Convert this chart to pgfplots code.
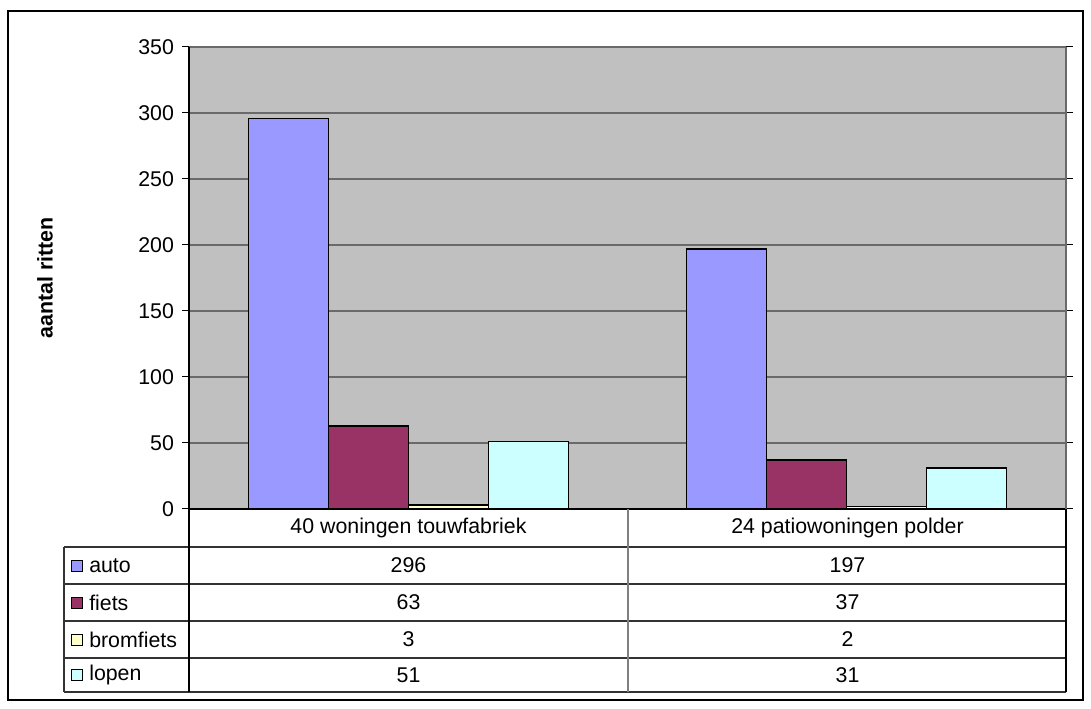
\documentclass[border=0pt]{standalone}
\usepackage{pgfplots}
\pgfplotsset{compat=1.18}
\usepackage{fontspec}
\setmainfont{Liberation Sans}
\definecolor{cauto}{HTML}{9999FF}
\definecolor{cfiets}{HTML}{993366}
\definecolor{cbrom}{HTML}{FFFFCC}
\definecolor{clopen}{HTML}{CCFFFF}
\definecolor{plotbg}{HTML}{C0C0C0}
\definecolor{gridc}{HTML}{6A6A6A}
\definecolor{linec}{HTML}{333333}
\begin{document}
\begin{tikzpicture}[x=0.75pt,y=0.75pt,font=\fontsize{16pt}{19pt}\selectfont]
\useasboundingbox (0,0) rectangle (1091,709);
\begin{axis}[
  at={(141.75pt,150pt)}, anchor=south west,
  scale only axis, width=657.75pt, height=346.5pt,
  xmin=0, xmax=2, ymin=0, ymax=350,
  ytick={0,50,...,350}, xtick=\empty,
  ybar=0pt, bar width=60pt,
  axis background/.style={fill=plotbg},
  axis line style={draw=none},
  ymajorgrids, major grid style={gridc, line width=0.9pt},
  tick align=outside, major tick length=5.25pt,
  ytick style={black, line width=0.75pt},
  yticklabel style={font=\fontsize{16pt}{19pt}\selectfont, xshift=-2.5pt, /pgf/number format/assume math mode=true},
  every axis plot/.append style={draw=black, line width=1.1pt},
]
\addplot[fill=cauto] coordinates {(0.5,296) (1.5,197)};
\addplot[fill=cfiets] coordinates {(0.5,63) (1.5,37)};
\addplot[fill=cbrom] coordinates {(0.5,3) (1.5,2)};
\addplot[fill=clopen] coordinates {(0.5,51) (1.5,31)};
\end{axis}
% outer frame
\draw[line width=1.2pt] (8,9) rectangle (1083,698);
% axis lines
\draw[black, line width=0.9pt] (189,662) -- (189,200) -- (1066,200);
\draw[gridc, line width=0.9pt] (1066,200) -- (1066,662);
% y label
\node[rotate=90, font=\fontsize{16pt}{19pt}\selectfont\bfseries] at (45,431) {aantal ritten};
% data table
\foreach \yy in {162,125,88,51,17} {\draw[linec, line width=0.9pt] (64,\yy) -- (1066,\yy);}
\draw[linec, line width=0.9pt] (64,17) -- (64,162);
\draw[black, line width=0.9pt] (189,17) -- (189,200);
\draw[gray, line width=0.9pt] (628,17) -- (628,200);
\draw[black, line width=0.9pt] (1066,17) -- (1066,200);
\node at (408.5,181) {40 woningen touwfabriek};
\node at (847.5,181) {24 patiowoningen polder};
\foreach \name/\col/\yy/\a/\b in {auto/cauto/143.5/296/197, fiets/cfiets/106.5/63/37, bromfiets/cbrom/69.5/3/2, lopen/clopen/34/51/31} {
  \draw[fill=\col, line width=0.6pt] (71,\yy-5.5) rectangle (82,\yy+5.5);
  \node[anchor=west, inner sep=0pt] at (89,\yy) {\name};
  \node at (408.5,\yy) {\a};
  \node at (847.5,\yy) {\b};
}
\end{tikzpicture}
\end{document}
